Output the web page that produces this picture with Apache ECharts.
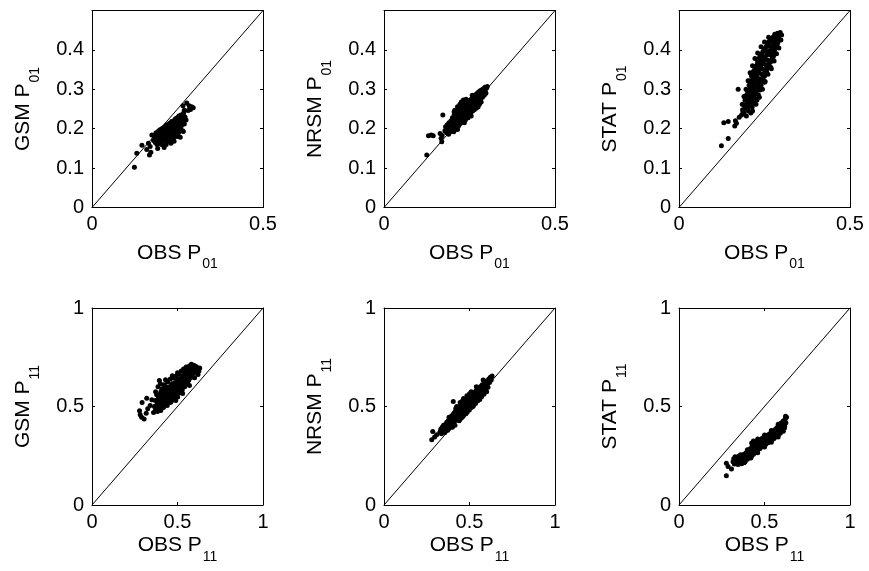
<!DOCTYPE html>
<html><head><meta charset="utf-8">
<script src="https://cdn.jsdelivr.net/npm/echarts@6/dist/echarts.min.js"></script>
<style>html,body{margin:0;padding:0;background:#fff}#c{width:869px;height:571px}</style>
</head><body><div id="c"></div>
<script>
// Axis titles
const xTitleTop = 'OBS P', xSubTop = '01';
const xTitleBottom = 'OBS P', xSubBottom = '11';
const yModels = ['GSM', 'NRSM', 'STAT'];

// GSM P01 vs OBS P01
const gsmP01 = [
[0.124,0.102],[0.131,0.138],[0.146,0.158],[0.160,0.147],[0.168,0.133],[0.165,0.163],[0.172,0.140],[0.175,0.184],[0.170,0.155],
[0.180,0.170],[0.182,0.180],[0.185,0.165],[0.187,0.190],[0.188,0.176],[0.190,0.160],[0.191,0.183],[0.193,0.171],[0.195,0.195],
[0.196,0.178],[0.197,0.165],[0.198,0.187],[0.200,0.172],[0.200,0.198],[0.201,0.181],[0.203,0.160],[0.204,0.190],[0.205,0.176],
[0.206,0.201],[0.207,0.168],[0.208,0.185],[0.209,0.195],[0.210,0.178],[0.211,0.152],[0.212,0.205],[0.213,0.188],[0.214,0.170],
[0.215,0.197],[0.216,0.182],[0.217,0.160],[0.218,0.210],[0.219,0.192],[0.220,0.176],[0.221,0.200],[0.222,0.186],[0.223,0.168],
[0.224,0.207],[0.225,0.194],[0.226,0.180],[0.227,0.214],[0.228,0.200],[0.229,0.188],[0.230,0.172],[0.231,0.205],[0.232,0.193],
[0.233,0.218],[0.234,0.182],[0.235,0.200],[0.236,0.210],[0.237,0.190],[0.238,0.176],[0.239,0.220],[0.240,0.203],[0.241,0.195],
[0.242,0.213],[0.243,0.185],[0.244,0.225],[0.245,0.205],[0.246,0.197],[0.247,0.215],[0.248,0.180],[0.249,0.228],[0.250,0.210],
[0.251,0.200],[0.252,0.220],[0.253,0.190],[0.254,0.232],[0.255,0.212],[0.256,0.203],[0.257,0.225],[0.258,0.178],[0.259,0.215],
[0.260,0.235],[0.262,0.208],[0.263,0.226],[0.265,0.195],[0.266,0.218],[0.268,0.240],[0.270,0.212],[0.272,0.230],[0.275,0.222],
[0.267,0.193],[0.266,0.258],[0.277,0.265],[0.284,0.258],[0.291,0.256],[0.296,0.253],[0.281,0.246],[0.288,0.249],[0.270,0.247],
[0.205,0.185],[0.215,0.190],[0.225,0.203],[0.235,0.191],[0.245,0.213],[0.255,0.219],[0.228,0.179],[0.238,0.206],[0.248,0.196],
[0.218,0.171],[0.201,0.163],[0.240,0.168],[0.258,0.201],[0.262,0.222],[0.192,0.150],[0.250,0.185],[0.231,0.163]
];
// NRSM P01 vs OBS P01
const nrsmP01 = [
[0.125,0.133],[0.130,0.182],[0.138,0.184],[0.144,0.182],[0.164,0.188],[0.169,0.167],[0.167,0.176],[0.172,0.235],[0.170,0.183],
[0.178,0.195],[0.180,0.205],[0.183,0.190],[0.185,0.210],[0.187,0.198],[0.189,0.186],[0.190,0.215],[0.192,0.203],[0.194,0.192],
[0.196,0.220],[0.197,0.207],[0.199,0.197],[0.200,0.228],[0.201,0.214],[0.203,0.202],[0.204,0.192],[0.205,0.235],[0.206,0.222],
[0.208,0.209],[0.209,0.198],[0.210,0.240],[0.211,0.228],[0.212,0.215],[0.214,0.203],[0.215,0.245],[0.216,0.233],[0.217,0.220],
[0.219,0.208],[0.220,0.252],[0.221,0.238],[0.222,0.226],[0.224,0.214],[0.225,0.256],[0.226,0.243],[0.227,0.231],[0.229,0.219],
[0.230,0.262],[0.231,0.248],[0.232,0.236],[0.234,0.224],[0.235,0.262],[0.236,0.252],[0.237,0.241],[0.239,0.229],[0.240,0.266],
[0.241,0.255],[0.242,0.245],[0.244,0.233],[0.245,0.268],[0.246,0.258],[0.247,0.248],[0.249,0.237],[0.250,0.272],[0.251,0.262],
[0.252,0.252],[0.254,0.241],[0.255,0.275],[0.256,0.265],[0.257,0.255],[0.259,0.245],[0.260,0.280],[0.261,0.268],[0.262,0.258],
[0.264,0.248],[0.265,0.284],[0.266,0.272],[0.267,0.262],[0.269,0.252],[0.270,0.288],[0.271,0.277],[0.272,0.266],[0.274,0.256],
[0.275,0.292],[0.276,0.281],[0.277,0.270],[0.279,0.262],[0.280,0.296],[0.281,0.285],[0.282,0.275],[0.284,0.268],[0.285,0.298],
[0.286,0.289],[0.288,0.280],[0.290,0.301],[0.291,0.292],[0.293,0.285],[0.295,0.305],[0.296,0.296],[0.298,0.290],[0.300,0.303],[0.302,0.307],
[0.202,0.220],[0.213,0.226],[0.223,0.245],[0.233,0.255],[0.243,0.262],[0.253,0.268],[0.263,0.276],[0.273,0.284],[0.283,0.292],
[0.218,0.232],[0.228,0.228],[0.238,0.248],[0.248,0.244],[0.258,0.262],[0.268,0.258],[0.232,0.273],[0.226,0.268],[0.238,0.222],
[0.246,0.228],[0.215,0.256],[0.207,0.247],[0.205,0.243],[0.222,0.262],[0.240,0.275],[0.258,0.285],[0.215,0.198],[0.235,0.215],
[0.255,0.232],[0.275,0.255]
];
// STAT P01 vs OBS P01
const statP01 = [
[0.124,0.157],[0.144,0.175],[0.131,0.215],[0.144,0.218],[0.173,0.300],[0.163,0.207],[0.168,0.214],[0.165,0.220],[0.176,0.229],
[0.183,0.235],[0.190,0.240],[0.197,0.232],[0.186,0.248],[0.195,0.252],[0.203,0.245],[0.210,0.240],[0.190,0.260],[0.199,0.262],
[0.207,0.258],[0.214,0.255],[0.193,0.272],[0.202,0.275],[0.210,0.270],[0.218,0.266],[0.197,0.285],[0.205,0.288],[0.213,0.282],
[0.221,0.278],[0.228,0.273],[0.200,0.296],[0.208,0.300],[0.216,0.295],[0.224,0.290],[0.232,0.286],[0.205,0.310],[0.213,0.312],
[0.221,0.306],[0.229,0.302],[0.237,0.298],[0.208,0.322],[0.216,0.325],[0.224,0.319],[0.232,0.314],[0.240,0.310],[0.212,0.334],
[0.220,0.337],[0.228,0.331],[0.236,0.326],[0.244,0.322],[0.250,0.318],[0.218,0.346],[0.226,0.349],[0.234,0.343],[0.242,0.338],
[0.250,0.334],[0.224,0.358],[0.232,0.361],[0.240,0.355],[0.248,0.350],[0.256,0.346],[0.230,0.370],[0.238,0.373],[0.246,0.367],
[0.254,0.362],[0.262,0.358],[0.270,0.352],[0.236,0.382],[0.244,0.385],[0.252,0.379],[0.260,0.374],[0.268,0.370],[0.245,0.395],
[0.253,0.398],[0.261,0.392],[0.269,0.387],[0.276,0.383],[0.255,0.408],[0.263,0.410],[0.271,0.404],[0.279,0.399],[0.262,0.420],
[0.270,0.422],[0.278,0.416],[0.286,0.412],[0.275,0.432],[0.283,0.434],[0.290,0.428],[0.288,0.442],[0.296,0.444],[0.300,0.438],
[0.187,0.243],[0.194,0.256],[0.201,0.266],[0.206,0.279],[0.211,0.291],[0.217,0.304],[0.220,0.316],[0.225,0.327],[0.230,0.340],
[0.236,0.351],[0.242,0.364],[0.249,0.375],[0.257,0.387],[0.265,0.398],[0.273,0.411],[0.281,0.423],[0.292,0.436],
[0.200,0.251],[0.206,0.262],[0.214,0.275],[0.219,0.286],[0.226,0.297],[0.233,0.307],[0.238,0.318],[0.246,0.330],[0.252,0.342],
[0.258,0.354],[0.264,0.366],[0.272,0.378],[0.274,0.392],[0.283,0.405],[0.289,0.418],
[0.195,0.278],[0.203,0.292],[0.209,0.306],[0.213,0.318],[0.216,0.340],[0.222,0.352],[0.229,0.364],[0.234,0.377],[0.241,0.389],
[0.249,0.402],[0.259,0.414],[0.267,0.427],[0.280,0.440],
[0.185,0.262],[0.190,0.282],[0.196,0.300],[0.202,0.322],[0.208,0.342],[0.215,0.360],[0.222,0.378],[0.230,0.392],[0.240,0.408],
[0.250,0.420],[0.262,0.432],[0.215,0.245],[0.225,0.262],[0.235,0.280],[0.244,0.300],[0.252,0.320],[0.260,0.338],[0.268,0.356],
[0.278,0.372],[0.285,0.390],[0.292,0.405],[0.298,0.425]
];
// GSM P11 vs OBS P11
const gsmP11 = [
[0.278,0.478],[0.282,0.458],[0.305,0.437],[0.293,0.520],[0.320,0.542],[0.350,0.534],[0.326,0.488],[0.340,0.505],[0.317,0.466],[0.290,0.445],
[0.360,0.470],[0.365,0.500],[0.370,0.530],[0.372,0.485],[0.378,0.560],[0.380,0.510],[0.383,0.475],[0.386,0.600],[0.388,0.540],
[0.391,0.495],[0.394,0.632],[0.396,0.520],[0.399,0.565],[0.402,0.480],[0.405,0.548],[0.408,0.505],[0.410,0.590],[0.413,0.530],
[0.416,0.560],[0.418,0.495],[0.421,0.610],[0.424,0.545],[0.426,0.515],[0.429,0.575],[0.432,0.600],[0.435,0.530],[0.437,0.555],
[0.440,0.505],[0.442,0.625],[0.445,0.580],[0.447,0.540],[0.450,0.565],[0.453,0.520],[0.455,0.600],[0.458,0.640],[0.460,0.550],
[0.463,0.585],[0.466,0.530],[0.468,0.615],[0.471,0.565],[0.474,0.600],[0.476,0.545],[0.479,0.645],[0.482,0.580],[0.484,0.620],
[0.487,0.560],[0.490,0.600],[0.493,0.655],[0.495,0.575],[0.498,0.630],[0.501,0.548],[0.503,0.610],[0.506,0.590],[0.509,0.665],
[0.511,0.640],[0.514,0.570],[0.517,0.620],[0.520,0.600],[0.522,0.680],[0.525,0.655],[0.528,0.585],[0.531,0.635],[0.533,0.612],
[0.536,0.690],[0.539,0.660],[0.542,0.600],[0.545,0.645],[0.548,0.625],[0.551,0.700],[0.554,0.670],[0.557,0.615],[0.560,0.650],
[0.563,0.685],[0.566,0.635],[0.569,0.705],[0.572,0.665],[0.575,0.645],[0.578,0.690],[0.581,0.715],[0.584,0.655],[0.587,0.700],
[0.590,0.675],[0.593,0.710],[0.596,0.690],[0.600,0.670],[0.603,0.705],[0.607,0.685],[0.612,0.700],[0.618,0.690],[0.625,0.680],[0.630,0.695],
[0.385,0.522],[0.395,0.546],[0.404,0.577],[0.415,0.521],[0.425,0.587],[0.434,0.566],[0.446,0.556],[0.456,0.577],[0.465,0.611],
[0.475,0.582],[0.486,0.603],[0.496,0.617],[0.505,0.636],[0.515,0.603],[0.526,0.627],[0.535,0.652],[0.546,0.677],[0.555,0.642],
[0.565,0.667],[0.575,0.692],[0.586,0.681],[0.461,0.522],[0.481,0.541],[0.500,0.567],[0.521,0.581],[0.541,0.617],[0.561,0.627],[0.580,0.662],
[0.372,0.575],[0.400,0.615],[0.430,0.636],[0.470,0.656],[0.500,0.671],[0.550,0.696],[0.490,0.530],[0.530,0.566],[0.570,0.606],
[0.600,0.646],[0.620,0.662]
];
// NRSM P11 vs OBS P11
const nrsmP11 = [
[0.279,0.331],[0.285,0.373],[0.308,0.356],[0.405,0.525],[0.296,0.345],
[0.327,0.370],[0.332,0.385],[0.336,0.362],[0.340,0.395],[0.344,0.375],[0.348,0.405],[0.352,0.385],[0.356,0.368],[0.360,0.410],
[0.363,0.392],[0.367,0.420],[0.370,0.400],[0.373,0.380],[0.376,0.428],[0.379,0.408],[0.382,0.390],[0.385,0.440],[0.388,0.420],
[0.391,0.400],[0.394,0.450],[0.397,0.430],[0.400,0.410],[0.403,0.460],[0.406,0.440],[0.409,0.420],[0.412,0.470],[0.415,0.450],
[0.418,0.430],[0.421,0.480],[0.424,0.460],[0.427,0.440],[0.430,0.490],[0.433,0.470],[0.436,0.450],[0.439,0.428],[0.442,0.500],
[0.445,0.480],[0.448,0.460],[0.451,0.440],[0.454,0.510],[0.457,0.490],[0.460,0.470],[0.463,0.450],[0.466,0.520],[0.469,0.500],
[0.472,0.480],[0.475,0.462],[0.478,0.530],[0.481,0.510],[0.484,0.490],[0.487,0.472],[0.490,0.540],[0.493,0.520],[0.496,0.500],
[0.499,0.482],[0.502,0.550],[0.505,0.530],[0.508,0.512],[0.511,0.495],[0.514,0.560],[0.517,0.540],[0.520,0.520],[0.523,0.505],
[0.526,0.570],[0.529,0.550],[0.532,0.532],[0.535,0.515],[0.538,0.580],[0.541,0.560],[0.544,0.542],[0.547,0.528],[0.550,0.590],
[0.553,0.570],[0.556,0.553],[0.559,0.540],[0.562,0.600],[0.565,0.580],[0.568,0.563],[0.571,0.550],[0.574,0.610],[0.577,0.592],
[0.580,0.575],[0.584,0.562],[0.588,0.620],[0.592,0.600],[0.596,0.585],[0.600,0.630],[0.604,0.612],[0.608,0.598],[0.613,0.640],
[0.617,0.622],[0.622,0.648],[0.627,0.635],[0.632,0.655],
[0.350,0.392],[0.372,0.415],[0.392,0.435],[0.410,0.455],[0.428,0.475],[0.446,0.495],[0.462,0.505],[0.480,0.520],[0.498,0.540],
[0.516,0.555],[0.534,0.570],[0.552,0.585],[0.570,0.600],[0.590,0.615],[0.610,0.630],[0.365,0.381],[0.385,0.405],[0.403,0.425],
[0.421,0.445],[0.440,0.465],[0.458,0.480],[0.476,0.495],[0.494,0.515],[0.512,0.530],[0.530,0.545],[0.548,0.560],[0.566,0.575],
[0.585,0.590],[0.602,0.605],[0.425,0.500],[0.445,0.520],[0.465,0.540],[0.415,0.405],[0.455,0.445],[0.485,0.555],[0.510,0.575],
[0.380,0.445],[0.420,0.490],[0.460,0.530],[0.500,0.565],[0.540,0.600],[0.580,0.635],[0.400,0.395],[0.440,0.430],[0.480,0.465],
[0.520,0.500],[0.560,0.535],[0.600,0.575]
];
// STAT P11 vs OBS P11
const statP11 = [
[0.277,0.149],[0.277,0.212],[0.307,0.183],[0.287,0.195],
[0.316,0.220],[0.320,0.235],[0.324,0.208],[0.328,0.245],[0.332,0.225],[0.336,0.210],[0.340,0.238],[0.344,0.222],[0.348,0.248],
[0.352,0.230],[0.356,0.215],[0.360,0.242],[0.364,0.226],[0.368,0.252],[0.372,0.235],[0.376,0.220],[0.380,0.258],[0.384,0.240],
[0.388,0.226],[0.392,0.265],[0.396,0.248],[0.400,0.232],[0.404,0.272],[0.408,0.255],[0.412,0.240],[0.416,0.285],[0.420,0.265],
[0.424,0.248],[0.428,0.300],[0.432,0.278],[0.436,0.258],[0.440,0.312],[0.444,0.290],[0.448,0.268],[0.452,0.318],[0.456,0.298],
[0.460,0.278],[0.464,0.325],[0.468,0.305],[0.472,0.286],[0.476,0.332],[0.480,0.312],[0.484,0.294],[0.488,0.340],[0.492,0.320],
[0.496,0.300],[0.500,0.345],[0.504,0.327],[0.508,0.308],[0.512,0.352],[0.516,0.334],[0.520,0.316],[0.524,0.358],[0.528,0.340],
[0.532,0.322],[0.536,0.366],[0.540,0.348],[0.544,0.330],[0.548,0.374],[0.552,0.356],[0.556,0.338],[0.560,0.382],[0.564,0.364],
[0.568,0.346],[0.572,0.392],[0.576,0.372],[0.580,0.354],[0.584,0.402],[0.588,0.382],[0.592,0.364],[0.596,0.415],[0.600,0.394],
[0.604,0.378],[0.608,0.425],[0.612,0.405],[0.616,0.390],[0.620,0.435],[0.625,0.418],[0.629,0.445],[0.623,0.450],
[0.330,0.232],[0.350,0.240],[0.370,0.245],[0.390,0.251],[0.410,0.266],[0.430,0.288],[0.450,0.301],[0.470,0.315],[0.490,0.330],
[0.510,0.341],[0.530,0.352],[0.550,0.365],[0.570,0.380],[0.590,0.392],[0.610,0.415],[0.340,0.218],[0.360,0.228],[0.380,0.232],
[0.400,0.245],[0.420,0.255],[0.440,0.275],[0.460,0.290],[0.480,0.302],[0.500,0.318],[0.520,0.330],[0.540,0.338],[0.560,0.352],
[0.580,0.368],[0.600,0.380],[0.618,0.400],[0.325,0.225],[0.335,0.241],[0.425,0.315],[0.435,0.325],[0.445,0.321],[0.346,0.205],
[0.366,0.210],[0.386,0.218],
[0.360,0.255],[0.400,0.280],[0.460,0.335],[0.500,0.355],[0.540,0.378],[0.580,0.410],[0.380,0.215],[0.420,0.238],[0.460,0.265],
[0.500,0.295],[0.540,0.318],[0.580,0.345],[0.610,0.375]
];

const panelData = [gsmP01, nrsmP01, statP01, gsmP11, nrsmP11, statP11];
const axisMax = [0.5, 1];      // per row
const yInterval = [0.1, 0.5];  // per row
const xInterval = [0.5, 0.5];  // per row
const subs = [xSubTop, xSubBottom];

const FONT = 'Liberation Sans, Arial, Helvetica, sans-serif';
const lefts = [92, 384, 679];
const tops = [10.5, 308];
const W = 171, H = 197;

const rich = {
  m: {fontSize: 21, lineHeight: 24, verticalAlign: 'top', color: '#000', fontFamily: FONT},
  s: {fontSize: 14, lineHeight: 16, verticalAlign: 'top', padding: [15, 0, 0, 1], color: '#000', fontFamily: FONT}
};
function fmt(v) {
  const r = Math.round(v * 10) / 10;
  return String(r);
}

const grid = [], xAxis = [], yAxis = [], series = [];
let gi = 0;
for (let r = 0; r < 2; r++) {
  for (let c = 0; c < 3; c++) {
    const m = axisMax[r];
    grid.push({left: lefts[c], top: tops[r], width: W, height: H, containLabel: false});
    const lineS = {show: true, onZero: false, lineStyle: {color: '#000', width: 1}};
    const tickS = {show: true, inside: true, length: 3, lineStyle: {color: '#000', width: 1}};
    xAxis.push({
      gridIndex: gi, type: 'value', min: 0, max: m, interval: xInterval[r], position: 'bottom',
      axisLine: lineS, axisTick: tickS, splitLine: {show: false},
      axisLabel: {show: true, fontSize: 20, color: '#000', fontFamily: FONT, margin: 7, formatter: fmt},
      name: '{m|' + (r === 0 ? xTitleTop : xTitleBottom) + '}{s|' + subs[r] + '}',
      nameLocation: 'middle', nameGap: r === 0 ? 35 : 30,
      nameTextStyle: {rich: rich, color: '#000', fontFamily: FONT, fontSize: 21}
    });
    xAxis.push({
      gridIndex: gi, type: 'value', min: 0, max: m, interval: xInterval[r], position: 'top',
      axisLine: lineS, axisTick: tickS, splitLine: {show: false}, axisLabel: {show: false}
    });
    yAxis.push({
      gridIndex: gi, type: 'value', min: 0, max: m, interval: yInterval[r], position: 'left',
      axisLine: lineS, axisTick: tickS, splitLine: {show: false},
      axisLabel: {show: true, fontSize: 20, color: '#000', fontFamily: FONT, margin: 8,
        formatter: function (v) { return (r === 0 && Math.abs(v - 0.5) < 1e-9) ? '' : fmt(v); }},
      name: '{m|' + yModels[c] + ' P}{s|' + subs[r] + '}',
      nameLocation: 'middle', nameRotate: 90, nameGap: 55,
      nameTextStyle: {rich: rich, color: '#000', fontFamily: FONT, fontSize: 21}
    });
    yAxis.push({
      gridIndex: gi, type: 'value', min: 0, max: m, interval: yInterval[r], position: 'right',
      axisLine: lineS, axisTick: tickS, splitLine: {show: false}, axisLabel: {show: false}
    });
    series.push({
      type: 'line', xAxisIndex: 2 * gi, yAxisIndex: 2 * gi, data: [[0, 0], [m, m]],
      symbol: 'none', silent: true, lineStyle: {color: '#000', width: 1}, z: 1
    });
    series.push({
      type: 'scatter', xAxisIndex: 2 * gi, yAxisIndex: 2 * gi, data: panelData[gi],
      symbol: 'circle', symbolSize: 5, itemStyle: {color: '#000', opacity: 1}, z: 2, silent: true
    });
    gi++;
  }
}

const chart = echarts.init(document.getElementById('c'), null, {renderer: 'canvas'});
chart.setOption({animation: false, backgroundColor: '#fff', grid, xAxis, yAxis, series});
</script>
</body></html>
